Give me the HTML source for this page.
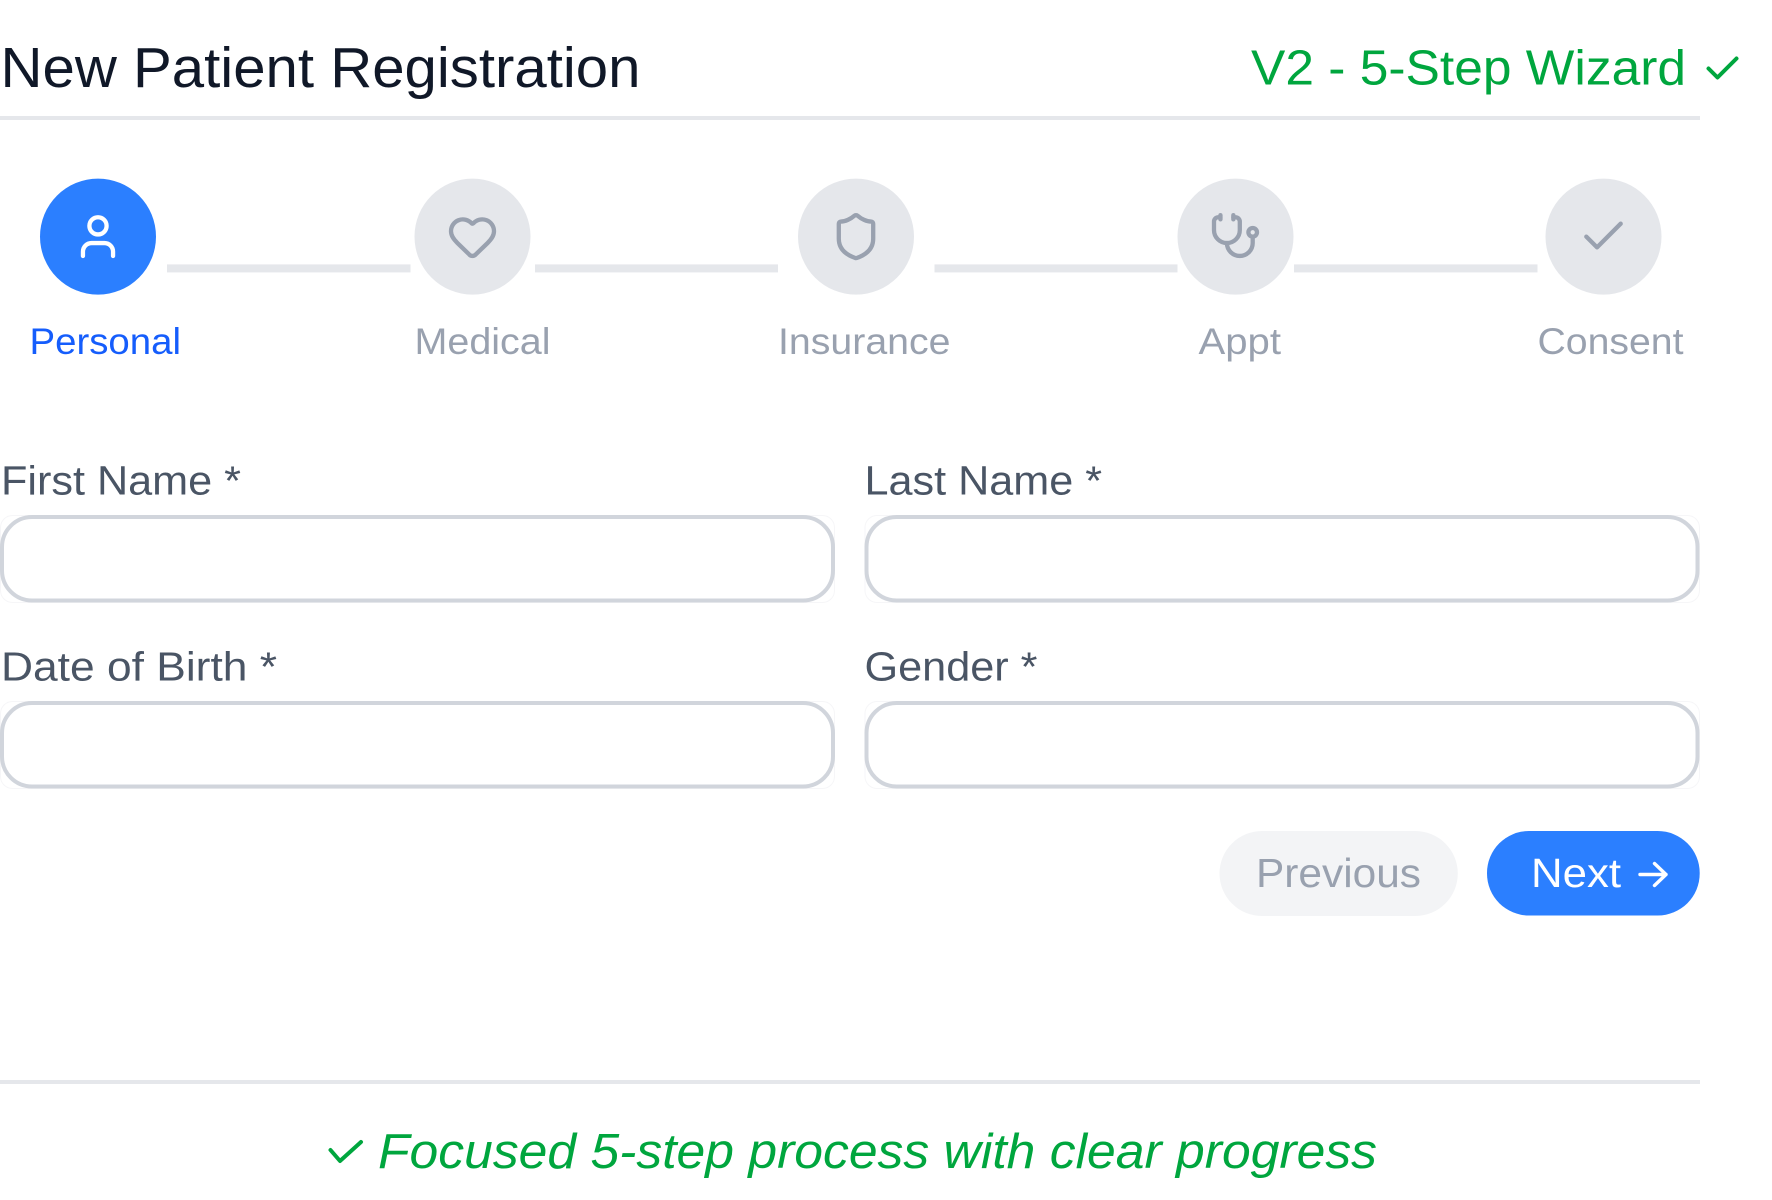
<!DOCTYPE html>
<html lang="en">
<head>
<meta charset="utf-8">
<title>New Patient Registration</title>
<style>
html,body{margin:0;padding:0;background:#fff;width:1772px;height:1200px;overflow:hidden}
svg{display:block}
text{font-family:"Liberation Sans",Arial,sans-serif}
.ic{fill:none;stroke:#99a1af;stroke-width:2;stroke-linecap:round;stroke-linejoin:round}
</style>
</head>
<body>
<svg xmlns="http://www.w3.org/2000/svg" width="1772" height="1200" viewBox="0 0 1772 1200">
<rect width="1772" height="1200" fill="#fff"/>

<text x="0.5" y="87" font-size="57" fill="#101828" textLength="640" lengthAdjust="spacingAndGlyphs">New Patient Registration</text>
<text x="1251" y="84.5" font-size="49" fill="#00a63e" textLength="435" lengthAdjust="spacingAndGlyphs">V2 - 5-Step Wizard</text>
<path d="M1708.5 68.5 L1717.5 77.5 L1736.5 58.5" fill="none" stroke="#00a63e" stroke-width="4" stroke-linecap="round" stroke-linejoin="round"/>
<rect x="0" y="116" width="1700" height="4" fill="#e5e7eb"/>

<circle cx="98" cy="236.6" r="58" fill="#2b7fff"/>
<circle cx="472.5" cy="236.6" r="58" fill="#e5e7eb"/>
<circle cx="856" cy="236.6" r="58" fill="#e5e7eb"/>
<circle cx="1235.5" cy="236.6" r="58" fill="#e5e7eb"/>
<circle cx="1603.5" cy="236.6" r="58" fill="#e5e7eb"/>

<rect x="167" y="264.4" width="243.5" height="8" fill="#e5e7eb"/>
<rect x="535" y="264.4" width="243" height="8" fill="#e5e7eb"/>
<rect x="934.5" y="264.4" width="243" height="8" fill="#e5e7eb"/>
<rect x="1294" y="264.4" width="243.5" height="8" fill="#e5e7eb"/>

<g transform="translate(72.2 210.8) scale(2.15)" class="ic" style="stroke:#fff">
<path d="M19 21v-2a4 4 0 0 0-4-4H9a4 4 0 0 0-4 4v2"/><circle cx="12" cy="7" r="4"/>
</g>
<g transform="translate(446.7 210.8) scale(2.15)" class="ic">
<path d="M2 9.5a5.5 5.5 0 0 1 9.591-3.676.56.56 0 0 0 .818 0A5.49 5.49 0 0 1 22 9.5c0 2.29-1.5 4-3 5.5l-5.492 5.313a2 2 0 0 1-3 .019L5 15c-1.5-1.5-3-3.2-3-5.5"/>
</g>
<g transform="translate(830.2 210.8) scale(2.15)" class="ic">
<path d="M20 13c0 5-3.5 7.5-7.66 8.95a1 1 0 0 1-.67-.01C7.5 20.5 4 18 4 13V6a1 1 0 0 1 1-1c2 0 4.5-1.2 6.24-2.72a1.17 1.17 0 0 1 1.52 0C14.51 3.81 17 5 19 5a1 1 0 0 1 1 1z"/>
</g>
<g transform="translate(1209.7 210.8) scale(2.15)" class="ic">
<path d="M11 2v2"/><path d="M5 2v2"/><path d="M5 3H4a2 2 0 0 0-2 2v4a6 6 0 0 0 12 0V5a2 2 0 0 0-2-2h-1"/><path d="M8 15a6 6 0 0 0 12 0v-3"/><circle cx="20" cy="10" r="2"/>
</g>
<g transform="translate(1577.7 210.8) scale(2.15)" class="ic">
<path d="M20 6 9 17l-5-5"/>
</g>

<text x="29.5" y="354" font-size="37" fill="#155dfc" textLength="151.5" lengthAdjust="spacingAndGlyphs">Personal</text>
<text x="414.5" y="354" font-size="37" fill="#99a1af" textLength="136" lengthAdjust="spacingAndGlyphs">Medical</text>
<text x="778" y="354" font-size="37" fill="#99a1af" textLength="172.5" lengthAdjust="spacingAndGlyphs">Insurance</text>
<text x="1198.5" y="354" font-size="37" fill="#99a1af" textLength="82.5" lengthAdjust="spacingAndGlyphs">Appt</text>
<text x="1537.5" y="354" font-size="37" fill="#99a1af" textLength="146" lengthAdjust="spacingAndGlyphs">Consent</text>

<text x="1" y="494.5" font-size="41" fill="#4a5565" textLength="240" lengthAdjust="spacingAndGlyphs">First Name *</text>
<text x="864.5" y="494.5" font-size="41" fill="#4a5565" textLength="237.5" lengthAdjust="spacingAndGlyphs">Last Name *</text>
<text x="1" y="680.5" font-size="41" fill="#4a5565" textLength="276" lengthAdjust="spacingAndGlyphs">Date of Birth *</text>
<text x="864.5" y="680.5" font-size="41" fill="#4a5565" textLength="173" lengthAdjust="spacingAndGlyphs">Gender *</text>

<g fill="none" stroke="#f6f6f8" stroke-width="1">
<rect x="0.5" y="515.5" width="834" height="87" rx="12"/>
<rect x="865" y="515.5" width="834.5" height="87" rx="12"/>
<rect x="0.5" y="701.5" width="834" height="87" rx="12"/>
<rect x="865" y="701.5" width="834.5" height="87" rx="12"/>
</g>
<g fill="#fff" stroke="#d1d5dc" stroke-width="4">
<rect x="2" y="517" width="831" height="83.5" rx="30"/>
<rect x="866.5" y="517" width="831" height="83.5" rx="30"/>
<rect x="2" y="703" width="831" height="83.5" rx="30"/>
<rect x="866.5" y="703" width="831" height="83.5" rx="30"/>
</g>

<rect x="1219.5" y="831" width="238.3" height="85" rx="42.5" fill="#f3f4f6"/>
<rect x="1487" y="831" width="212.7" height="84.5" rx="42" fill="#2b7fff"/>
<text x="1256" y="887" font-size="41" fill="#99a1af" textLength="165" lengthAdjust="spacingAndGlyphs">Previous</text>
<text x="1531" y="887" font-size="41" fill="#fff" textLength="90" lengthAdjust="spacingAndGlyphs">Next</text>
<path d="M1640 874.5 H1666 M1654.5 863.5 L1666 874.5 L1654.5 885.5" fill="none" stroke="#fff" stroke-width="3.4" stroke-linecap="round" stroke-linejoin="round"/>

<rect x="0" y="1080" width="1700" height="4" fill="#e5e7eb"/>
<path d="M330.5 1150 L340 1161 L361 1142" fill="none" stroke="#00a63e" stroke-width="4" stroke-linecap="round" stroke-linejoin="round"/>
<text x="378" y="1168" font-size="49" font-style="italic" fill="#00a63e" textLength="999" lengthAdjust="spacingAndGlyphs">Focused 5-step process with clear progress</text>
</svg>
</body>
</html>
